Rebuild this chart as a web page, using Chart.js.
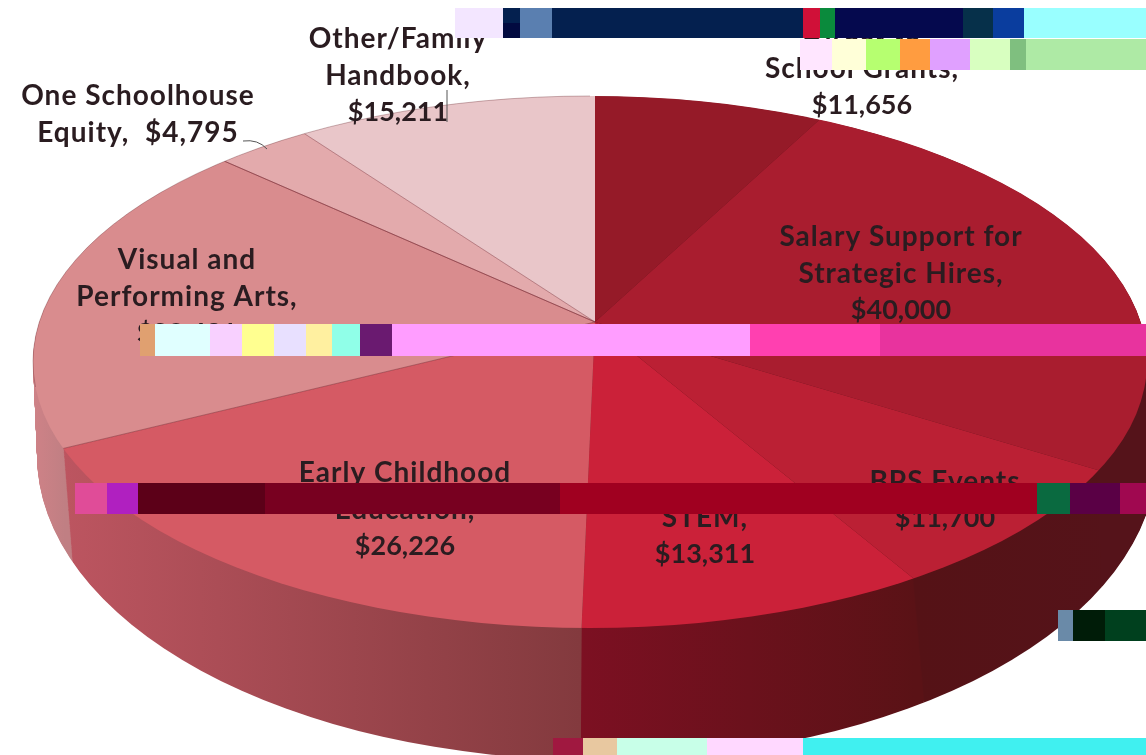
<!DOCTYPE html>
<html lang="en">
<head>
    <meta charset="UTF-8">
    <title>Budget pie</title>
    <script src="https://cdn.jsdelivr.net/npm/chart.js"></script>
    <style>
        html, body { margin: 0; background: #fff; overflow: hidden; }
        canvas { display: block; }
    </style>
</head>
<body>
    <canvas id="pie" width="1146" height="755"></canvas>

    <script>
        // Data, clockwise from 12 o'clock
        const categories = ['Direct to School Grants', 'Salary Support for Strategic Hires', 'BPS Events', 'STEM',
            'Early Childhood Education', 'Visual and Performing Arts', 'One Schoolhouse Equity', 'Other/Family Handbook'];
        const amounts = [11656, 40000, 11700, 13311, 26226, 29431, 4795, 15211];
        const labelLines = [
            ['Direct to', 'School Grants,'],
            ['Salary Support for', 'Strategic Hires,'],
            ['BPS Events'],
            ['STEM,'],
            ['Early Childhood', 'Education,'],
            ['Visual and', 'Performing Arts,'],
            ['One Schoolhouse', 'Equity,'],
            ['Other/Family', 'Handbook,']
        ];

        // Styles
        const topColors = ['#951a28', '#a91d2f', '#bb2034', '#cb2139', '#d55a64', '#d98c8e', '#e3aaac', '#e9c6c9'];
        const wallStops = [
            [0, '#55131a', 1146, '#55131a'], [0, '#55131a', 1146, '#55131a'], [915, '#551216', 1146, '#55131a'],
            [582, '#7c1022', 915, '#5a1216'], [65, '#bc5560', 580, '#833a3e'], [33, '#cf8287', 65, '#c07f83'],
            [0, '#e0a8aa', 1146, '#e0a8aa'], [0, '#e9c6c9', 1146, '#e9c6c9']
        ];
        const labelCenters = [[862, 32], [901, 237], [945, 482], [705, 518], [405, 473], [187, 260], [138, 96], [398, 39]];

        // Perspective pie: wedges fan out of the apex, the rim is an ellipse that is not centred on it
        const apex = { x: 595, y: 322, sx: 551, sy: 259, drop: 115 };
        const rimTop = { x: 590, y: 362, rx: 557, ry: 266 };
        const rimBottom = { x: 597, y: 455, rx: 560, ry: 305 };
        const overshoot = 1.6;
        const wallLayers = 130;

        function wedgePath(ctx, arc, shiftY) {
            const k = overshoot / arc.outerRadius;
            ctx.setTransform(apex.sx * k, 0, 0, apex.sy * k, apex.x, apex.y + shiftY);
            ctx.beginPath();
            ctx.moveTo(0, 0);
            ctx.arc(0, 0, arc.outerRadius, arc.startAngle, arc.endAngle);
            ctx.closePath();
            ctx.setTransform(1, 0, 0, 1, 0, 0);
        }

        // t = 0 top rim, t = 1 bottom rim
        function clipRim(ctx, t) {
            const mix = key => rimTop[key] + (rimBottom[key] - rimTop[key]) * t;
            ctx.beginPath();
            ctx.ellipse(mix('x'), mix('y'), mix('rx'), mix('ry'), 0, 0, Math.PI * 2);
            ctx.clip();
        }

        const perspectivePie = {
            id: 'perspectivePie',
            beforeDatasetDraw(chart) {
                const ctx = chart.ctx;
                const arcs = chart.getDatasetMeta(0).data;
                const fills = arcs.map((arc, i) => {
                    const [x0, c0, x1, c1] = wallStops[i];
                    const g = ctx.createLinearGradient(x0, 0, x1, 0);
                    g.addColorStop(0, c0);
                    g.addColorStop(1, c1);
                    return g;
                });
                // side wall, stacked from the bottom up
                for (let n = wallLayers; n > 0; n--) {
                    const t = n / wallLayers;
                    ctx.save();
                    clipRim(ctx, t);
                    arcs.forEach((arc, i) => {
                        wedgePath(ctx, arc, apex.drop * t);
                        ctx.fillStyle = fills[i];
                        ctx.fill();
                    });
                    ctx.restore();
                }
                // the top face is the library's own arcs, stretched and clipped to the rim
                ctx.save();
                clipRim(ctx, 0);
                const arc = arcs[0];
                const k = overshoot / arc.outerRadius;
                ctx.translate(apex.x, apex.y);
                ctx.scale(apex.sx * k, apex.sy * k);
                ctx.translate(-arc.x, -arc.y);
            },
            afterDatasetDraw(chart) {
                const ctx = chart.ctx;
                ctx.restore();
                const arcs = chart.getDatasetMeta(0).data;
                ctx.save();
                clipRim(ctx, 0);
                ctx.lineWidth = 1;
                ctx.strokeStyle = 'rgba(110,30,40,0.4)';
                // only the pale slices show a visible seam
                arcs.slice(5, 7).forEach(arc => {
                    wedgePath(ctx, arc, 0);
                    ctx.stroke();
                });
                ctx.restore();
                ctx.save();
                ctx.strokeStyle = 'rgba(110,50,55,0.35)';
                ctx.beginPath();
                ctx.ellipse(rimTop.x, rimTop.y, rimTop.rx, rimTop.ry, 0, Math.PI * 0.97, Math.PI * 1.5);
                ctx.stroke();
                ctx.restore();
            }
        };

        const money = v => '$' + v.toLocaleString('en-US');

        const sliceLabels = {
            id: 'sliceLabels',
            afterDraw(chart) {
                const ctx = chart.ctx;
                ctx.save();
                ctx.textAlign = 'center';
                ctx.textBaseline = 'middle';
                ctx.fillStyle = '#2a1c20';
                categories.forEach((name, i) => {
                    const [x, y] = labelCenters[i];
                    const lines = labelLines[i].slice();
                    if (i === 6) {
                        lines[1] = lines[1] + '  ' + money(amounts[i]);
                    } else {
                        lines.push(money(amounts[i]));
                    }
                    lines.forEach((line, n) => {
                        const isValue = line.startsWith('$');
                        ctx.font = isValue ? '700 27px Lato' : '700 28px Lato';
                        ctx.letterSpacing = isValue ? '0px' : '1px';
                        ctx.fillText(line, x, y + n * 36.5);
                    });
                });
                // leader lines
                ctx.strokeStyle = '#555';
                ctx.lineWidth = 1;
                ctx.beginPath();
                ctx.moveTo(243, 141);
                ctx.quadraticCurveTo(258, 139, 267, 149);
                ctx.moveTo(447, 90);
                ctx.lineTo(447, 122);
                ctx.stroke();
                ctx.restore();
            }
        };

        // Flat blocks where the source image is damaged
        const damageBlocks = [
            [455, 8, 48, 30, '#f3e6ff'], [503, 8, 300, 30, '#04204f'], [503, 23, 20, 15, '#020a40'], [520, 8, 32, 30, '#5a7fb0'],
            [803, 8, 17, 30, '#d01038'], [820, 8, 15, 30, '#0a8a3c'], [835, 8, 150, 30, '#05094e'], [963, 8, 30, 30, '#06304a'],
            [993, 8, 31, 30, '#0a3d9e'], [1024, 8, 122, 30, '#99ffff'],
            [800, 39, 32, 31, '#ffe6ff'], [832, 39, 34, 31, '#ffffd8'], [866, 39, 34, 31, '#b6ff70'], [900, 39, 30, 31, '#ff9c40'],
            [930, 39, 40, 31, '#e0a0ff'], [970, 39, 40, 31, '#d8ffc0'], [1010, 39, 16, 31, '#7fbf7f'], [1026, 39, 120, 31, '#aeeaa5'],
            [140, 324, 15, 32, '#e0a070'], [155, 324, 55, 32, '#e0ffff'], [210, 324, 32, 32, '#f8d0ff'], [242, 324, 32, 32, '#ffff90'],
            [274, 324, 32, 32, '#e8e0ff'], [306, 324, 32, 32, '#fff0a0'], [332, 324, 30, 32, '#90ffe8'], [360, 324, 32, 32, '#6a1a70'],
            [392, 324, 358, 32, '#ff9dff'], [750, 324, 130, 32, '#ff40b0'], [880, 324, 266, 32, '#e8339e'],
            [75, 483, 32, 31, '#e04c98'], [107, 483, 31, 31, '#b020c0'], [138, 483, 127, 31, '#5c0018'], [265, 483, 295, 31, '#780020'],
            [560, 483, 477, 31, '#a00020'], [1037, 483, 33, 31, '#0a6a40'], [1070, 483, 50, 31, '#5a0045'], [1120, 483, 26, 31, '#a00850'],
            [1058, 610, 15, 31, '#6a8aa8'], [1073, 610, 32, 31, '#001c08'], [1105, 610, 41, 31, '#00401e'],
            [553, 738, 30, 17, '#a01840'], [583, 738, 34, 17, '#e8c8a0'], [617, 738, 90, 17, '#c8ffe8'], [707, 738, 96, 17, '#ffd8ff'],
            [803, 738, 343, 17, '#40f0f0']
        ];

        const damage = {
            id: 'damage',
            afterDraw(chart) {
                const ctx = chart.ctx;
                damageBlocks.forEach(([x, y, w, h, c]) => {
                    ctx.fillStyle = c;
                    ctx.fillRect(x, y, w, h);
                });
            }
        };

        new Chart(document.getElementById('pie').getContext('2d'), {
            type: 'pie',
            data: {
                labels: categories,
                datasets: [{
                    data: amounts,
                    backgroundColor: topColors,
                    borderWidth: 0
                }]
            },
            options: {
                responsive: false,
                animation: false,
                plugins: { legend: { display: false }, tooltip: { enabled: false } }
            },
            plugins: [perspectivePie, sliceLabels, damage]
        });
    </script>
</body>
</html>
